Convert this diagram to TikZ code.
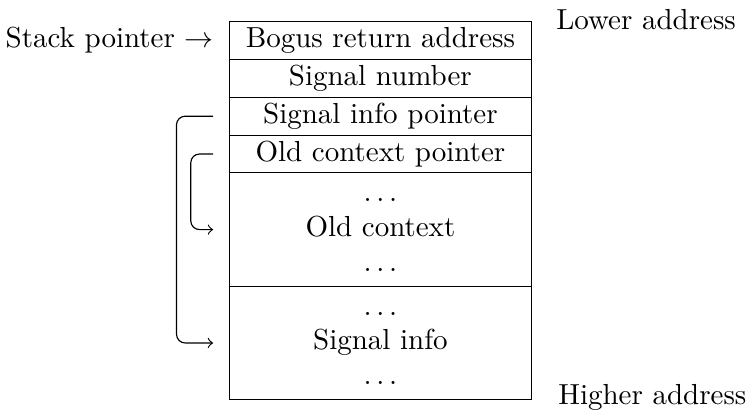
\documentclass[tikz,border=0pt]{standalone}
\usetikzlibrary{calc,positioning}
\begin{document}
\begin{tikzpicture}[x=0.345pt,y=-0.345pt,
  cell/.style={draw, line width=0.4pt, minimum width=104.4pt, minimum height=13.04pt,
               inner sep=0pt, outer sep=0pt, align=center},
  bigcell/.style={cell, minimum height=39.12pt},
  link/.style={->, line width=0.4pt, rounded corners=3pt}]
\useasboundingbox (0,0) rectangle (747,412);
% stack frame, top to bottom
\node[cell, anchor=north] (r1) at (380.4,21.7) {Bogus return address};
\node[cell, below=0pt of r1] (r2) {Signal number};
\node[cell, below=0pt of r2] (r3) {Signal info pointer};
\node[cell, below=0pt of r3] (r4) {Old context pointer};
\node[bigcell, below=0pt of r4] (r5) {\strut$\ldots$\\\strut Old context\\\strut$\ldots$};
\node[bigcell, below=0pt of r5] (r6) {\strut$\ldots$\\\strut Signal info\\\strut$\ldots$};
% side labels
\node[anchor=base east, inner sep=0pt] (sp) at ($(r1.base west)+(-15,0)$) {Stack pointer $\rightarrow$};
\node[anchor=base west, inner sep=0pt] (lo) at ($(r1.north east)+(24,7.6)$) {Lower address};
\node[anchor=base west, inner sep=0pt] (hi) at ($(r6.south east)+(26,5.0)$) {Higher address};
% pointers into the frame
\draw[link] ($(r3.west)+(-16,0)$) -- ($(r3.west)+(-52.6,0)$) |- ($(r6.west)+(-16,0)$);
\draw[link] ($(r4.west)+(-16,0)$) -- ($(r4.west)+(-38.3,0)$) |- ($(r5.west)+(-16,0)$);
\end{tikzpicture}
\end{document}
